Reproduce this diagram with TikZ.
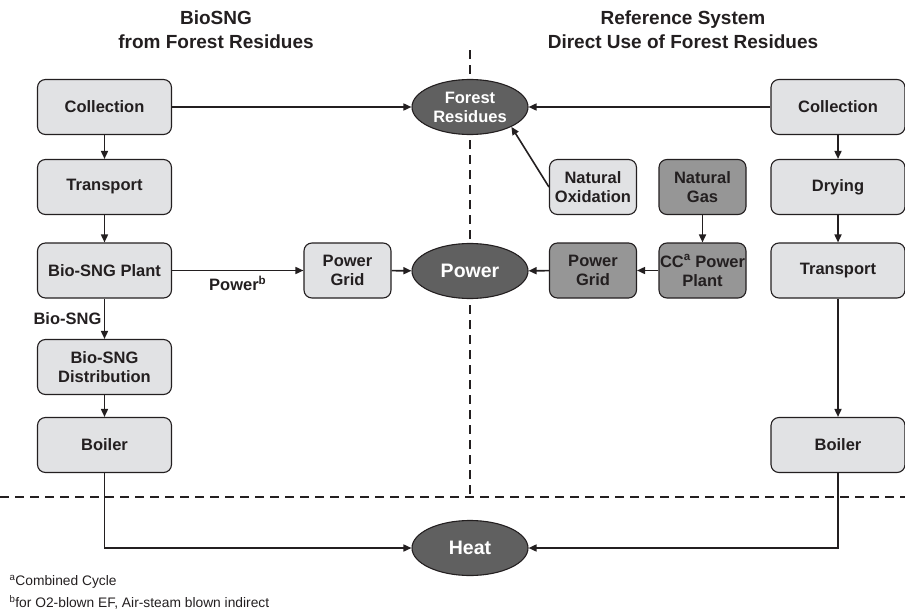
\documentclass[tikz,border=0pt]{standalone}
\usepackage{fontspec}
\setmainfont{Liberation Sans}
\usetikzlibrary{arrows.meta,positioning,shapes.geometric}
\definecolor{sngLight}{RGB}{225,226,228}
\definecolor{sngDark}{RGB}{150,150,150}
\definecolor{sngBlob}{RGB}{96,96,96}
\definecolor{sngLine}{RGB}{35,31,32}

\begin{document}
\begin{tikzpicture}[x=1pt, y=-1pt,
    box/.style={rectangle, rounded corners=8pt, draw=sngLine, fill=sngLight,
                line width=1.1pt, minimum width=134pt, minimum height=55pt, inner xsep=1pt,
                align=center, font=\fontsize{16.5}{19}\selectfont\bfseries, text=sngLine},
    smallbox/.style={box, minimum width=87pt},
    darkbox/.style={smallbox, fill=sngDark},
    blob/.style={ellipse, draw=sngLine, fill=sngBlob, line width=1.1pt,
                 minimum width=116pt, minimum height=55pt, inner sep=0pt,
                 align=center, text=white, font=\fontsize{16.5}{19}\selectfont\bfseries},
    arr/.style={-{Triangle[length=8pt,width=7pt]}, line width=1.6pt, sngLine},
    sep/.style={dashed, dash pattern=on 9pt off 6pt, line width=1.5pt, sngLine},
    lbl/.style={font=\fontsize{16.5}{19}\selectfont\bfseries, text=sngLine}
  ]
  \useasboundingbox (0,0) rectangle (905,613);
  % headings
  \node[align=center, font=\fontsize{19}{24}\selectfont\bfseries, text=sngLine] (headL) at (216,30) {BioSNG\\from Forest Residues};
  \node[align=center, font=\fontsize{19}{24}\selectfont\bfseries, text=sngLine] (headR) at (683,30) {Reference System\\Direct Use of Forest Residues};
  % dividers
  \draw[sep] (470,50) -- (470,494);
  \draw[sep] (0,497) -- (905,497);
  % centre
  \node[blob] (resid) at (470,107) {Forest\\Residues};
  \node[blob, font=\fontsize{19.5}{22}\selectfont\bfseries] (power) at (470,271) {Power};
  \node[blob, font=\fontsize{19.5}{22}\selectfont\bfseries] (heat) at (470,548) {Heat};
  % bioSNG chain
  \node[box] (lcoll)  at (104.5,107) {Collection};
  \node[box] (ltrans) at (104.5,187) {Transport};
  \node[box] (lplant) at (104.5,270.5) {Bio-SNG Plant};
  \node[box] (ldist)  at (104.5,367) {Bio-SNG\\Distribution};
  \node[box] (lboil)  at (104.5,445) {Boiler};
  \node[smallbox] (lgrid) at (347.5,270.5) {Power\\Grid};
  % reference chain
  \node[box] (rcoll)  at (838,107) {Collection};
  \node[box] (rdry)   at (838,187) {Drying};
  \node[box] (rtrans) at (838,270.5) {Transport};
  \node[box] (rboil)  at (838,445) {Boiler};
  \node[smallbox] (oxid) at (593,187) {Natural\\Oxidation};
  \node[darkbox] (ngas) at (702.5,187) {Natural\\Gas};
  \node[darkbox] (ccpp) at (702.5,270.5) {CC\textsuperscript{a} Power\\Plant};
  \node[darkbox] (rgrid) at (593,270.5) {Power\\Grid};
  % left arrows
  \draw[arr] (lcoll) -- (resid);
  \draw[arr] (lcoll) -- (ltrans);
  \draw[arr] (ltrans) -- (lplant);
  \draw[arr] (lplant) -- node[left, lbl, xshift=1pt] (lblsng) {Bio-SNG} (ldist);
  \draw[arr] (ldist) -- (lboil);
  \draw[arr] (lplant) -- node[below, lbl, yshift=-1pt] (lblpow) {Power\textsuperscript{b}} (lgrid);
  \draw[arr] (lgrid) -- (power);
  \draw[arr] (lboil.south) |- (heat.west);
  % right arrows
  \draw[arr] (rcoll) -- (resid);
  \draw[arr] (rcoll) -- (rdry);
  \draw[arr] (rdry) -- (rtrans);
  \draw[arr] (rtrans) -- (rboil);
  \draw[arr] (rboil.south) |- (heat.east);
  \draw[arr] (oxid.west) -- (resid.south east);
  \draw[arr] (ngas) -- (ccpp);
  \draw[arr] (ccpp) -- (rgrid);
  \draw[arr] (rgrid) -- (power);
  % notes
  \node[anchor=west, font=\fontsize{13.8}{16}\selectfont, text=sngLine] (noteA) at (6,582) {\textsuperscript{a}Combined Cycle};
  \node[anchor=west, font=\fontsize{13.8}{16}\selectfont, text=sngLine] (noteB) at (6,602) {\textsuperscript{b}for O2-blown EF, Air-steam blown indirect};
\end{tikzpicture}
\end{document}
